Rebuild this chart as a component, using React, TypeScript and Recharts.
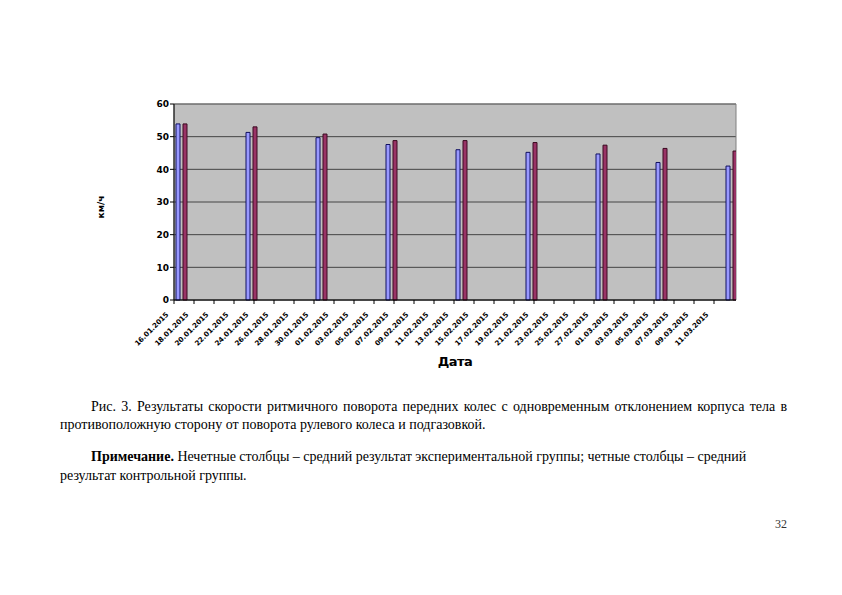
import { BarChart, Bar, XAxis, YAxis, CartesianGrid, ReferenceArea } from "recharts";

// measurement days
const dates = [
  "16.01.2015",
  "23.01.2015",
  "30.01.2015",
  "06.02.2015",
  "13.02.2015",
  "20.02.2015",
  "27.02.2015",
  "05.03.2015",
  "12.03.2015",
];
// odd bars – experimental group, even bars – control group
const experimental = [53.9, 51.3, 49.7, 47.6, 46.0, 45.2, 44.7, 42.1, 41.0];
const control = [53.9, 53.0, 50.8, 48.8, 48.8, 48.2, 47.4, 46.4, 45.6];

const tickLabels = [
  "16.01.2015", "18.01.2015", "20.01.2015", "22.01.2015", "24.01.2015",
  "26.01.2015", "28.01.2015", "30.01.2015", "01.02.2015", "03.02.2015",
  "05.02.2015", "07.02.2015", "09.02.2015", "11.02.2015", "13.02.2015",
  "15.02.2015", "17.02.2015", "19.02.2015", "21.02.2015", "23.02.2015",
  "25.02.2015", "27.02.2015", "01.03.2015", "03.03.2015", "05.03.2015",
  "07.03.2015", "09.03.2015", "11.03.2015",
];
const yTicks = [0, 10, 20, 30, 40, 50, 60];

// day number counted from the first date on the axis
const dayOf = (s: string) => {
  const [d, m, y] = s.split(".").map(Number);
  return Math.round((Date.UTC(y, m - 1, d) - Date.UTC(2015, 0, 16)) / 86400000);
};
// Excel puts the day slot boundary a bit left of the bar cluster
const SLOT_SHIFT = 0.7;
const X_MAX = 56 - SLOT_SHIFT + 0.2;

const data = dates.map((d, i) => ({
  day: dayOf(d),
  exp: experimental[i],
  ctrl: control[i],
}));
const xTicks = tickLabels.map((t) => dayOf(t) - SLOT_SHIFT);

const DateTick = (props: any) => {
  const { x, y, payload } = props;
  const label = tickLabels[payload.index] ?? "";
  const ax = x - 5;
  const ay = y + 9;
  return (
    <text
      x={ax}
      y={ay}
      transform={`rotate(-45 ${ax} ${ay})`}
      textAnchor="end"
      fontSize={7}
      fontWeight="bold"
      fontFamily="DejaVu Sans"
      fill="#000"
    >
      {label}
    </text>
  );
};

const YLabel = (props: any) => {
  const { viewBox } = props;
  const x = 104;
  const y = viewBox.y + viewBox.height / 2 + 5;
  return (
    <text
      x={x}
      y={y}
      transform={`rotate(-90 ${x} ${y})`}
      textAnchor="middle"
      fontSize={9}
      fontWeight="bold"
      fontFamily="DejaVu Sans"
      fill="#000"
    >
      км/ч
    </text>
  );
};

const textStyle = {
  fontSize: 14,
  color: "#000",
};

export default function App() {
  return (
    <div
      style={{
        position: "absolute",
        top: 0,
        left: 0,
        width: 842,
        height: 595,
        background: "#fff",
        fontFamily: "'Liberation Serif', serif",
      }}
    >
      <div style={{ position: "absolute", top: 0, left: 0 }}>
        <BarChart
          width={842}
          height={400}
          data={data}
          margin={{ top: 104, right: 106, left: 144, bottom: 34 }}
          barGap={3}
        >
          <CartesianGrid
            vertical={false}
            horizontal
            stroke="#444"
            fill="#c0c0c0"
            fillOpacity={1}
          />
          <ReferenceArea
            x1={-SLOT_SHIFT}
            x2={X_MAX}
            y1={0}
            y2={60}
            fill="none"
            stroke="#808080"
            strokeWidth={1}
          />
          <XAxis
            dataKey="day"
            type="number"
            domain={[-SLOT_SHIFT, X_MAX]}
            ticks={xTicks}
            interval={0}
            height={66}
            tickSize={4}
            tickMargin={2}
            axisLine={{ stroke: "#000" }}
            tickLine={{ stroke: "#000" }}
            tick={<DateTick />}
            allowDataOverflow
            label={{
              value: "Дата",
              position: "insideBottom",
              offset: 0,
              fontSize: 13,
              fontWeight: "bold",
              fontFamily: "DejaVu Sans",
              fill: "#000",
              letterSpacing: -0.5,
            }}
          />
          <YAxis
            domain={[0, 60]}
            ticks={yTicks}
            width={30}
            tickSize={4}
            tickMargin={1}
            axisLine={{ stroke: "#000" }}
            tickLine={{ stroke: "#000" }}
            tick={{ fontSize: 9, fontWeight: "bold", fontFamily: "DejaVu Sans", fill: "#000" }}
            label={<YLabel />}
          />
          <Bar
            dataKey="exp"
            fill="#9999ff"
            stroke="#101060"
            strokeWidth={1}
            barSize={4}
            isAnimationActive={false}
          />
          <Bar
            dataKey="ctrl"
            fill="#993366"
            stroke="#3a0a20"
            strokeWidth={1}
            barSize={4}
            isAnimationActive={false}
          />
        </BarChart>
      </div>

      <div
        style={{
          ...textStyle,
          position: "absolute",
          top: 398,
          left: 60,
          width: 727,
          lineHeight: "18px",
        }}
      >
        <div style={{ textIndent: 31, textAlign: "justify", textAlignLast: "justify" }}>
          Рис. 3. Результаты скорости ритмичного поворота передних колес с одновременным
          отклонением корпуса тела в
        </div>
        <div>противоположную сторону от поворота рулевого колеса и подгазовкой.</div>
      </div>

      <div
        style={{
          ...textStyle,
          position: "absolute",
          top: 447,
          left: 60,
          width: 740,
          lineHeight: "19px",
        }}
      >
        <div style={{ textIndent: 31 }}>
          <b>Примечание.</b> Нечетные столбцы – средний результат экспериментальной группы;
          четные столбцы – средний
        </div>
        <div>результат контрольной группы.</div>
      </div>

      <div
        style={{
          position: "absolute",
          top: 517,
          left: 775,
          fontSize: 12,
          color: "#333",
        }}
      >
        32
      </div>
    </div>
  );
}
